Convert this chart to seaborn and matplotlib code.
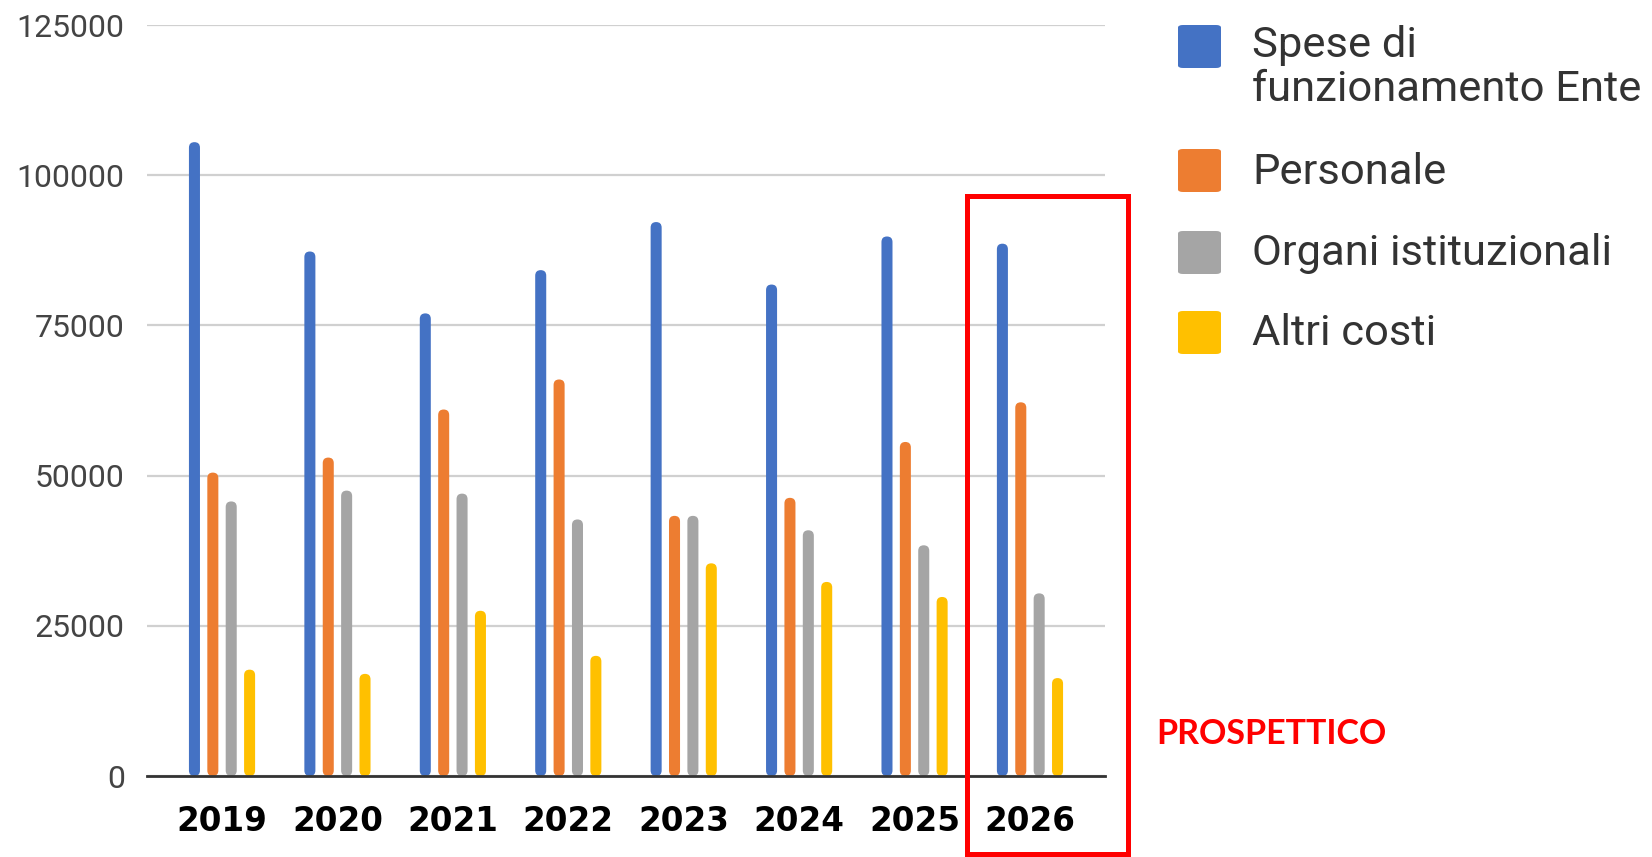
import matplotlib
matplotlib.use("Agg")
import matplotlib.pyplot as plt
import seaborn as sns
import pandas as pd
from matplotlib.patches import Rectangle, FancyBboxPatch

years = ["2019", "2020", "2021", "2022", "2023", "2024", "2025", "2026"]
series = ["Spese di\nfunzionamento Ente", "Personale", "Organi istituzionali", "Altri costi"]
spese = [105500, 87300, 77000, 84200, 92200, 81800, 89800, 88600]
personale = [50500, 53000, 61000, 66000, 43300, 46300, 55600, 62200]
organi = [45700, 47500, 47000, 42700, 43300, 40900, 38400, 30400]
altri = [17700, 17000, 27500, 20000, 35400, 32300, 29800, 16300]
colors = ["#4472C4", "#ED7D31", "#A5A5A5", "#FFC000"]
yticks = [0, 25000, 50000, 75000, 100000, 125000]
note = "PROSPETTICO"

rows = []
for name, vals in zip(series, [spese, personale, organi, altri]):
    for y, v in zip(years, vals):
        rows.append({"anno": y, "serie": name, "valore": v})
df = pd.DataFrame(rows)

sns.set_theme(style="white")
W, H = 1652, 857
fig = plt.figure(figsize=(W / 100, H / 100), dpi=100)
ax_h_px, ax_w_px = 776 - 25, 1105 - 147
ax = fig.add_axes([147 / W, (H - 776) / H, ax_w_px / W, ax_h_px / H])

sns.barplot(data=df, x="anno", y="valore", hue="serie", hue_order=series,
            order=years, palette=colors, saturation=1, width=0.637, gap=0.40,
            legend=False, ax=ax, zorder=3)

xlim = (-0.65, 7.65)
ylim = (0, 125000)
ax.set_xlim(*xlim)
ax.set_ylim(*ylim)

# round the bar tops
aspect = ((ylim[1] - ylim[0]) / ax_h_px) / ((xlim[1] - xlim[0]) / ax_w_px)
for p in list(ax.patches):
    x, y0, w, h = p.get_x(), p.get_y(), p.get_width(), p.get_height()
    fb = FancyBboxPatch((x, y0), w, h,
                        boxstyle=f"round,pad=0,rounding_size={w / 2}",
                        mutation_aspect=aspect, facecolor=p.get_facecolor(),
                        edgecolor="none", zorder=3)
    p.set_visible(False)
    ax.add_patch(fb)

ax.set_yticks(yticks)
ax.set_yticklabels([str(t) for t in yticks])
ax.set_xlabel("")
ax.set_ylabel("")
ax.yaxis.grid(True, color="#d0d0d0", linewidth=1.6, zorder=0)
ax.set_axisbelow(True)
for s in ["left", "right", "top"]:
    ax.spines[s].set_visible(False)
ax.spines["bottom"].set_color("#333333")
ax.spines["bottom"].set_linewidth(2)
ax.spines["bottom"].set_zorder(4)
ax.tick_params(axis="y", length=0, pad=16, labelsize=23, labelcolor="#444444")
ax.tick_params(axis="x", length=0, pad=21)
for lab in ax.get_yticklabels():
    lab.set_fontfamily("Roboto")
for lab in ax.get_xticklabels():
    lab.set_fontfamily("DejaVu Sans")
    lab.set_fontweight("bold")
    lab.set_fontsize(23.5)
    lab.set_color("black")

# legend (manual, to match layout)
sq_tops = [25, 149, 231, 311]
baselines = [[57, 101], [184], [265], [345]]
for name, col, top, bls in zip(series, colors, sq_tops, baselines):
    fig.patches.append(FancyBboxPatch((1178 / W, (H - top - 43) / H), 43 / W, 43 / H,
                                      boxstyle="round,pad=0,rounding_size=0.003",
                                      transform=fig.transFigure, facecolor=col,
                                      edgecolor="none"))
    for line, bl in zip(name.split("\n"), bls):
        fig.text(1252 / W, (H - bl) / H, line, fontsize=31.3, family="Roboto",
                 color="#333333", va="baseline", ha="left")

# highlight box
fig.patches.append(Rectangle((967 / W, 3 / H), (1127.5 - 967) / W, (854 - 196) / H,
                             transform=fig.transFigure, fill=False,
                             edgecolor="#FF0000", linewidth=3.6))
fig.text(1156 / W, (H - 744) / H, note, fontsize=24.5, family="Lato",
         fontweight="bold", color="#FF0000", va="baseline", ha="left")

fig.savefig("out.png", dpi=100)
